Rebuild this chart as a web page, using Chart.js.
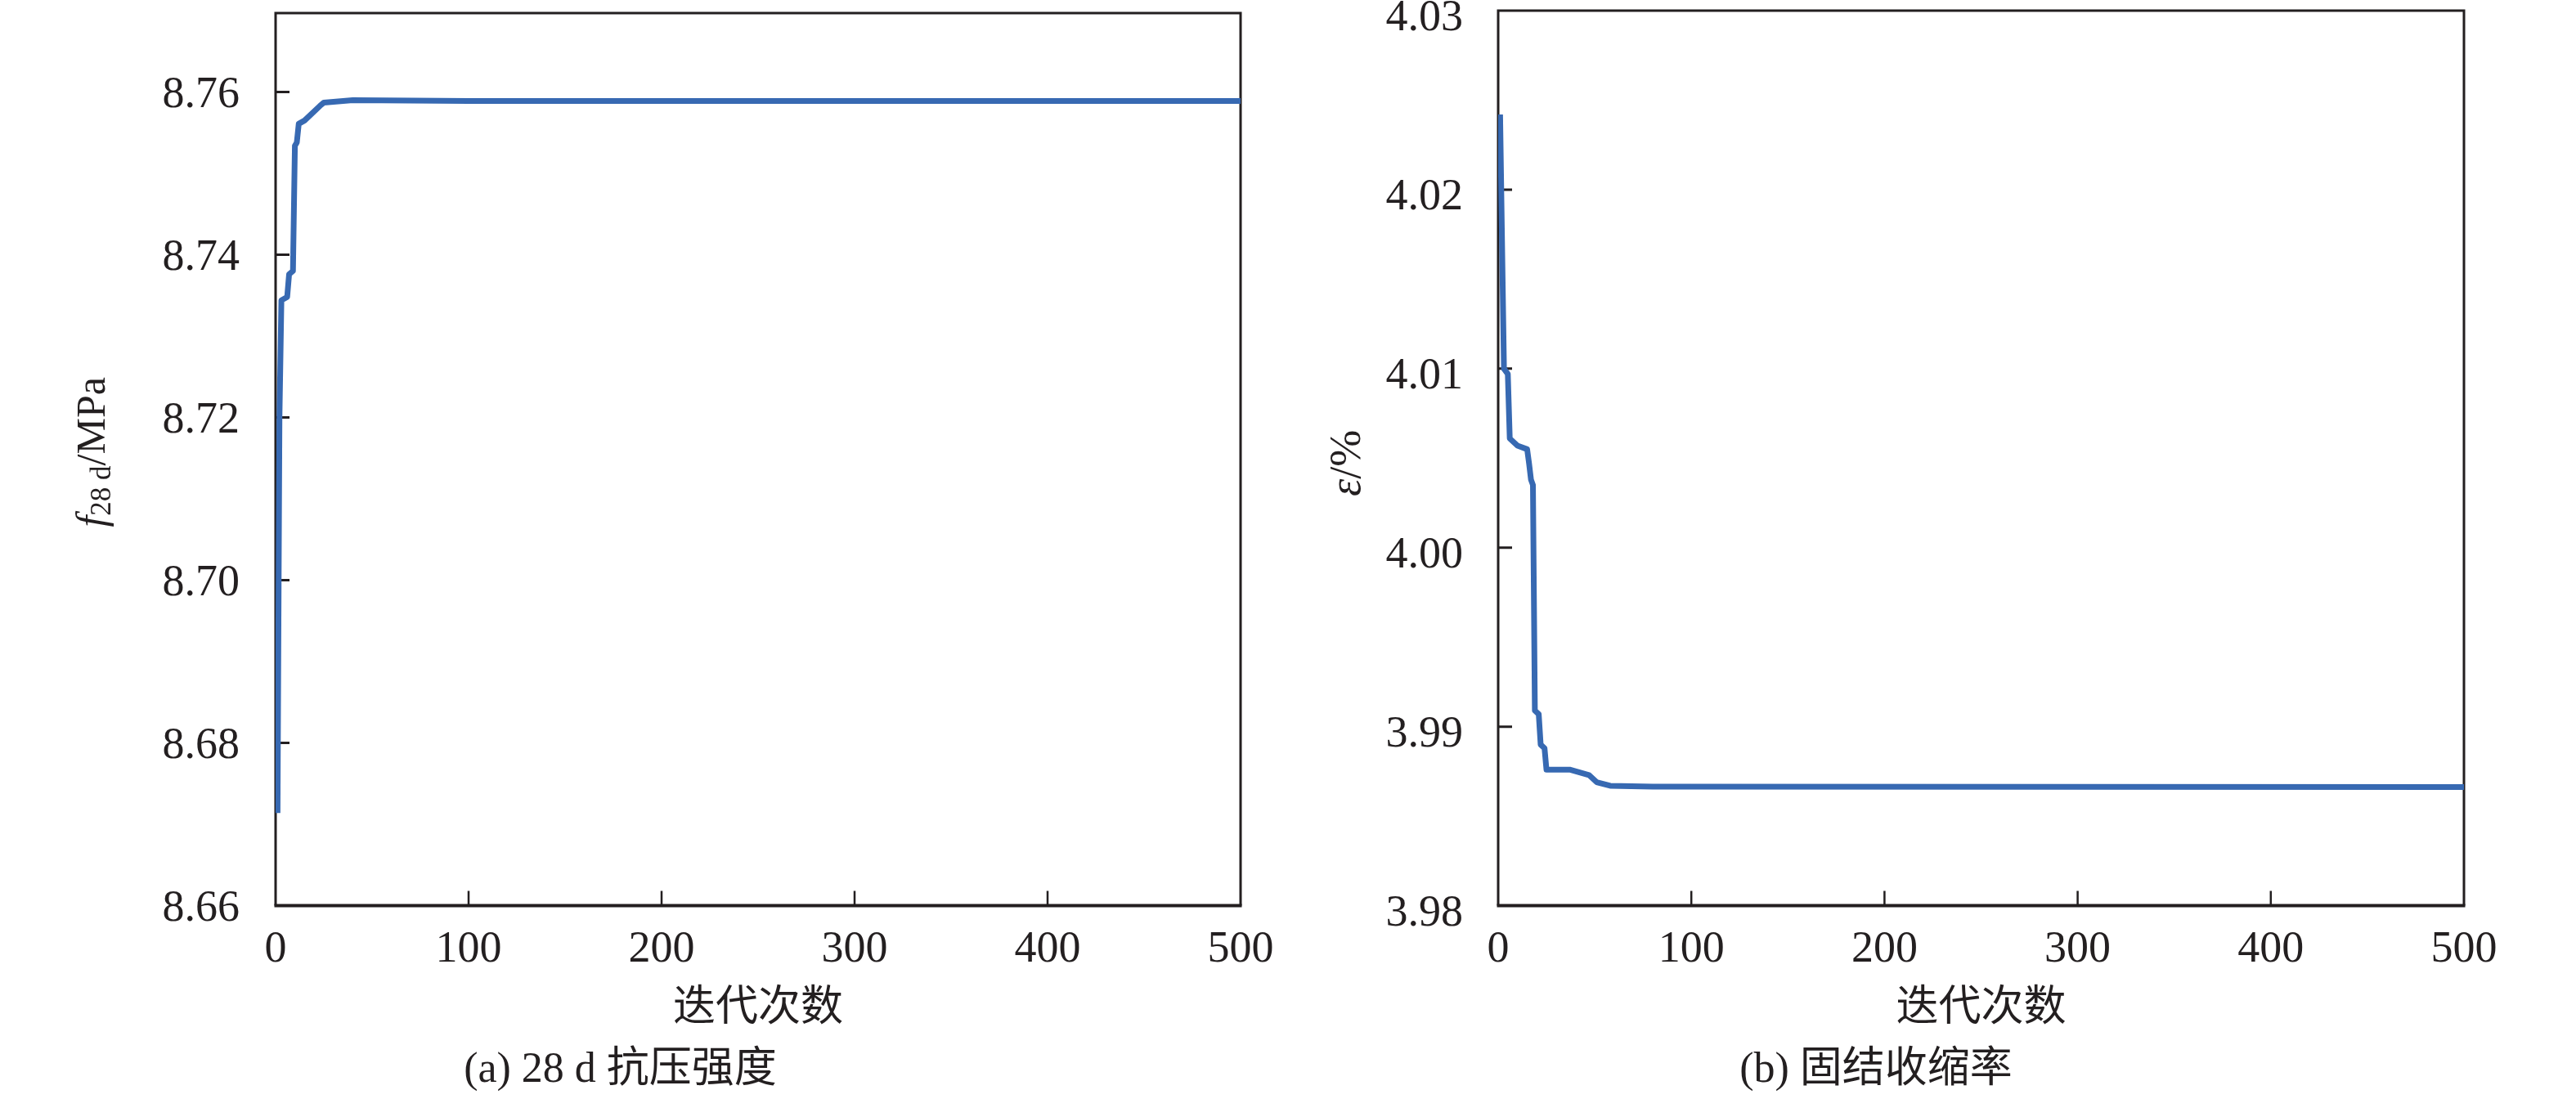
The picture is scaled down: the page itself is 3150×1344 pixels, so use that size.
<!DOCTYPE html>
<html><head><meta charset="utf-8">
<script src="https://cdn.jsdelivr.net/npm/chart.js@4/dist/chart.umd.min.js"></script>
<style>
html,body{margin:0;padding:0;background:#fff;}
#wrap{position:relative;width:3150px;height:1344px;background:#fff;}
.panel{position:absolute;top:0;width:1575px;height:1344px;}
</style></head><body>
<div id="wrap">
<div class="panel" style="left:0"><canvas id="cA" width="1575" height="1344"></canvas></div>
<div class="panel" style="left:1575px"><canvas id="cB" width="1575" height="1344"></canvas></div>
</div>
<script>
// ---- data ----
const xTicks = [0, 100, 200, 300, 400, 500];
const xTitle = '迭代次数';

const iterA = [1, 2, 3, 6, 7, 9, 10, 11, 12, 15, 23, 25, 40, 100, 500];
const strengthA = [8.6714, 8.7200, 8.7344, 8.7348, 8.7376, 8.7380, 8.7534, 8.7538, 8.7561, 8.7565, 8.7583, 8.7587, 8.7590, 8.7589, 8.7589];
const yTicksA = [8.66, 8.68, 8.70, 8.72, 8.74, 8.76];
const captionA = '(a) 28 d 抗压强度';
const yTitleA = [
  {t: 'f', italic: true, size: 50, shift: 0},
  {t: '28 d', italic: false, size: 35, shift: 7},
  {t: '/MPa', italic: false, size: 50, shift: 0}
];

const iterB = [1, 3, 5, 6, 10, 15, 16, 17, 18, 19, 21, 22, 24, 25, 37, 47, 51, 58, 80, 500];
const shrinkB = [4.0242, 4.0100, 4.0097, 4.0061, 4.0057, 4.0055, 4.0047, 4.0038, 4.0035, 3.9909, 3.9907, 3.9890, 3.9888, 3.9876, 3.9876, 3.9873, 3.9869, 3.9867, 3.98665, 3.98663];
const yTicksB = [3.98, 3.99, 4.00, 4.01, 4.02, 4.03];
const captionB = '(b) 固结收缩率';
const yTitleB = [
  {t: 'ε', italic: true, size: 54, shift: 0},
  {t: '/%', italic: false, size: 54, shift: 0}
];

// ---- styling ----
const INK = '#231f20';
const LINE = '#3769b2';
const SERIF = "'Liberation Serif', 'Times New Roman', 'Noto Sans CJK SC', serif";

function zeroPad(s) {
  s.paddingTop = 0; s.paddingBottom = 0; s.paddingLeft = 0; s.paddingRight = 0;
}

function framePlugin(cfg) {
  return {
    id: 'frame_' + cfg.id,
    beforeDatasetsDraw(chart) {
      const {ctx, chartArea: a, scales} = chart;
      ctx.save();
      ctx.strokeStyle = INK;
      ctx.lineCap = 'butt';
      ctx.lineWidth = 3;
      ctx.beginPath();
      ctx.moveTo(a.left, a.top); ctx.lineTo(a.right, a.top);
      ctx.lineTo(a.right, a.bottom);
      ctx.moveTo(a.left, a.top - 1.5); ctx.lineTo(a.left, a.bottom);
      ctx.stroke();
      ctx.lineWidth = 4;
      ctx.beginPath();
      ctx.moveTo(a.left - 1.5, a.bottom); ctx.lineTo(a.right + 1.5, a.bottom);
      ctx.stroke();
      ctx.lineWidth = 3;
      ctx.beginPath();
      scales.y.ticks.forEach(tk => {
        const y = scales.y.getPixelForValue(tk.value);
        if (Math.abs(y - a.bottom) < 2 || Math.abs(y - a.top) < 2) return;
        ctx.moveTo(a.left, y); ctx.lineTo(a.left + 17, y);
      });
      ctx.stroke();
      ctx.lineWidth = 2.5;
      ctx.beginPath();
      scales.x.ticks.forEach(tk => {
        const x = scales.x.getPixelForValue(tk.value);
        if (Math.abs(x - a.left) < 2 || Math.abs(x - a.right) < 2) return;
        ctx.moveTo(x, a.bottom); ctx.lineTo(x, a.bottom - 18);
      });
      ctx.stroke();
      ctx.restore();
    },
    afterDraw(chart) {
      const {ctx, chartArea: a} = chart;
      const parts = cfg.yTitle;
      ctx.save();
      ctx.fillStyle = INK;
      ctx.textBaseline = 'alphabetic';
      ctx.textAlign = 'left';
      let total = 0;
      const widths = parts.map(p => {
        ctx.font = (p.italic ? 'italic ' : '') + p.size + 'px ' + SERIF;
        const w = ctx.measureText(p.t).width;
        total += w;
        return w;
      });
      const cx = a.left - cfg.titleBaseOff;
      const cy = (a.top + a.bottom) / 2 + cfg.titleDy;
      ctx.translate(cx, cy);
      ctx.rotate(-Math.PI / 2);
      let x = -total / 2;
      parts.forEach((p, i) => {
        ctx.font = (p.italic ? 'italic ' : '') + p.size + 'px ' + SERIF;
        ctx.fillText(p.t, x, p.shift);
        x += widths[i];
      });
      ctx.restore();
    }
  };
}

function makeChart(canvasId, cfg) {
  const tickFont = {family: SERIF, size: 54, weight: 'normal'};
  return new Chart(document.getElementById(canvasId), {
    type: 'line',
    data: {
      datasets: [{
        data: cfg.iters.map((x, i) => ({x: x, y: cfg.vals[i]})),
        borderColor: LINE,
        borderWidth: 7,
        pointRadius: 0,
        tension: 0,
        fill: false,
        borderJoinStyle: 'round'
      }]
    },
    options: {
      responsive: false,
      animation: false,
      devicePixelRatio: 1,
      layout: {padding: {left: 0, right: cfg.padRight, top: cfg.padTop, bottom: 0}},
      plugins: {
        legend: {display: false},
        tooltip: {enabled: false},
        title: {
          display: true, position: 'bottom', text: cfg.caption, color: INK,
          font: {family: SERIF, size: 52, weight: 'normal', lineHeight: 1.2},
          padding: {top: 0, bottom: 3}
        }
      },
      scales: {
        x: {
          type: 'linear', min: 0, max: 500,
          afterBuildTicks: s => { s.ticks = xTicks.map(v => ({value: v})); },
          afterFit: s => { s.height = 171; zeroPad(s); },
          grid: {display: false, drawTicks: false},
          border: {display: false},
          ticks: {padding: 22, font: tickFont, color: INK, maxRotation: 0, autoSkip: false,
                  callback: v => String(v)},
          title: {display: true, text: xTitle, color: INK,
                  font: {family: SERIF, size: 52, weight: 'normal', lineHeight: 1.2},
                  padding: {top: 0, bottom: 13}}
        },
        y: {
          type: 'linear', min: cfg.yTicks[0], max: cfg.yTicks[cfg.yTicks.length - 1] + cfg.yExtra,
          afterBuildTicks: s => { s.ticks = cfg.yTicks.map(v => ({value: v})); },
          afterFit: s => { s.width = cfg.yWidth; zeroPad(s); },
          grid: {display: false, drawTicks: false},
          border: {display: false},
          ticks: {padding: cfg.yPad, labelOffset: cfg.labelOffset, font: tickFont, color: INK, autoSkip: false,
                  callback: v => Number(v).toFixed(2)}
        }
      }
    },
    plugins: [framePlugin(cfg)]
  });
}

makeChart('cA', {
  id: 'a', iters: iterA, vals: strengthA, yTicks: yTicksA, yExtra: 0.0097,
  caption: captionA, yTitle: yTitleA, yWidth: 337, padRight: 58, padTop: 16,
  yPad: 44, labelOffset: 4, titleBaseOff: 209, titleDy: -9
});
makeChart('cB', {
  id: 'b', iters: iterB, vals: shrinkB, yTicks: yTicksB, yExtra: 0,
  caption: captionB, yTitle: yTitleB, yWidth: 257, padRight: 137, padTop: 13,
  yPad: 43, labelOffset: 10, titleBaseOff: 169, titleDy: 6
});
</script>
</body></html>
